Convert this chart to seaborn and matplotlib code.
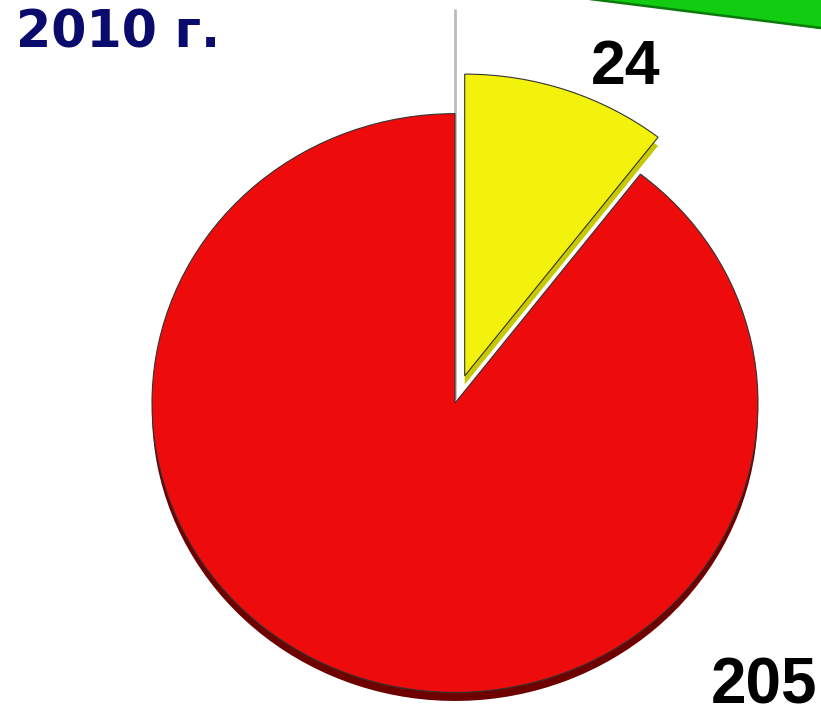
import matplotlib
matplotlib.use("Agg")
import matplotlib.pyplot as plt
import seaborn as sns

# ---- data ----
categories = ["A", "B"]
values = [24, 205]
labels = ["24", "205"]
title_text = "2010 г."

sns.set_theme(style="white")
plt.rcParams['font.family'] = ['Liberation Sans', 'DejaVu Sans']

W, H = 821, 716
fig = plt.figure(figsize=(W / 100, H / 100), dpi=100)
ax = fig.add_axes([0, 0, 1, 1])

face_colors = ["#F2F20C", "#EE0B0B"]
side_colors = ["#C8C800", "#6E0000"]
explode = [30, 0.0]   # offset in data units (pixels)

cx, cy = 455, H - 403
r = 303
yscale = 0.955  # slight 3D tilt
r_near = 316    # exploded slice looks larger (perspective)

# Depth (side) layer
side_w, _ = ax.pie(values, colors=side_colors, explode=explode, startangle=90,
                   counterclock=False, center=(cx, cy - 9), radius=r,
                   wedgeprops=dict(linewidth=0))
# Face layer
face_w, _ = ax.pie(values, colors=face_colors, explode=explode, startangle=90,
                   counterclock=False, center=(cx, cy), radius=r,
                   wedgeprops=dict(linewidth=0.8, edgecolor="#333333"))
side_w[0].set_radius(r_near)
face_w[0].set_radius(r_near)

ax.set_aspect('auto')
ax.set_xlim(0, W)
ax.set_ylim(cy - cy / yscale, cy + (H - cy) / yscale)

def py(pix):
    frac = (H - pix) / H
    y0, y1 = ax.get_ylim()
    return y0 + frac * (y1 - y0)

# gray vertical edge line
ax.plot([cx, cx], [py(10), py(398)], color="#BBBBBB", linewidth=2, zorder=0)

# green decorative stripe top-right
ax.fill([590, 821, 821], [py(-2), py(-2), py(29)], color="#12CC12", zorder=0, linewidth=0)
ax.plot([590, 821], [py(-1), py(28)], color="#0A7A0A", linewidth=1.8, zorder=0)

# labels
ax.text(626, py(68), labels[0], fontsize=45, fontweight="bold", color="black",
        ha="center", va="center")
ax.text(764, py(686), labels[1], fontsize=46, fontweight="bold", color="black",
        ha="center", va="center")
ax.text(118, py(34), title_text, fontsize=36.5, fontweight="bold", color="#0B0B6E",
        ha="center", va="center", family="DejaVu Sans")

ax.axis("off")
fig.savefig("out.png", dpi=100)
